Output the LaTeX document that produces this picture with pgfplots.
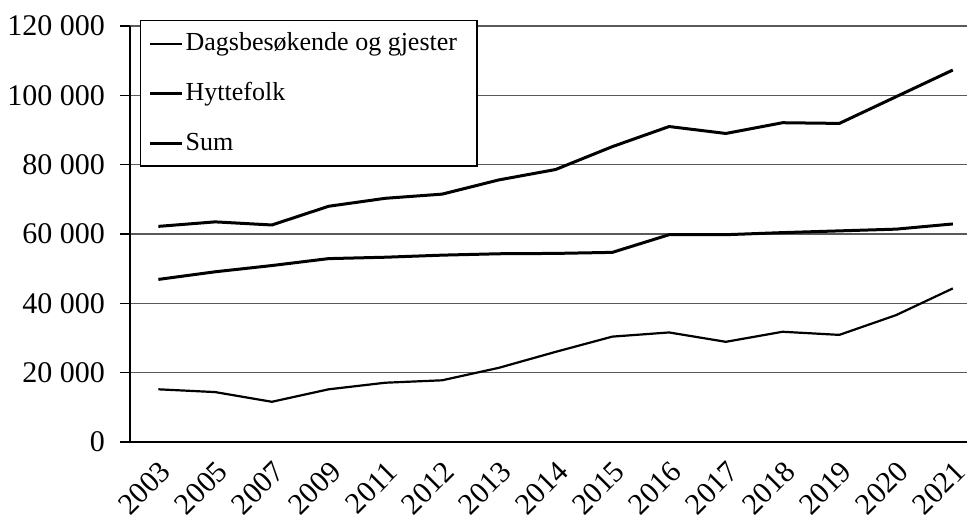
\documentclass[border=0pt]{standalone}
\usepackage{pgfplots}
\pgfplotsset{compat=1.18}
\usepackage{fontspec}
\setmainfont{Liberation Serif}
\begin{document}
\fontsize{13bp}{15bp}\selectfont
\begin{tikzpicture}
\begin{axis}[
  at={(0,0)}, anchor=south west,
  scale only axis,
  width=418.5bp, height=208bp,
  xmin=-0.5, xmax=14.25,
  ymin=0, ymax=120000,
  axis x line=bottom, axis y line=left,
  axis line style={-, black, line width=0.6bp},
  xtick={0,...,14},
  xticklabels={2003,2005,2007,2009,2011,2012,2013,2014,2015,2016,2017,2018,2019,2020,2021},
  x tick label style={rotate=45, anchor=north east, font=\fontsize{15bp}{17bp}\selectfont, xshift=-2bp, yshift=-2bp, inner sep=0.5bp},
  major x tick style={draw=none},
  extra x ticks={-0.5,0.5,...,13.5},
  extra x tick labels={},
  extra x tick style={tick align=outside, major tick length=5bp, tick style={black, line width=0.6bp}, grid=none},
  ytick={0,20000,40000,60000,80000,100000,120000},
  yticklabels={0,20 000,40 000,60 000,80 000,100 000,120 000},
  scaled y ticks=false,
  y tick label style={font=\fontsize{15bp}{17bp}\selectfont, xshift=-3bp},
  tick align=outside,
  major tick length=5bp,
  ytick style={black, line width=0.6bp},
  ymajorgrids,
  grid style={black!65, line width=0.6bp},
  legend style={at={(rel axis cs:0,1)}, anchor=north west, xshift=5bp, yshift=3bp,
    draw=black, fill=white, line width=0.6bp, inner xsep=4bp, inner ysep=4bp,
    font=\fontsize{13bp}{15bp}\selectfont, row sep=10bp,
    nodes={inner xsep=1bp, text depth=2bp}},
  legend cell align=left,
  legend image code/.code={\draw[#1] (0bp,0bp) -- (16bp,0bp);},
]
\addplot[black, line width=1.1bp] coordinates {
(0,15200) (1,14400) (2,11600) (3,15200) (4,17100) (5,17800) (6,21400) (7,26000) (8,30400) (9,31600) (10,28900) (11,31800) (12,30900) (13,36600) (14,44300)};
\addlegendentry{Dagsbesøkende og gjester\hspace*{5bp}}
\addplot[black, line width=1.5bp] coordinates {
(0,46900) (1,49100) (2,50900) (3,52900) (4,53300) (5,53900) (6,54300) (7,54400) (8,54700) (9,59800) (10,59800) (11,60400) (12,60900) (13,61400) (14,62900)};
\addlegendentry{Hyttefolk}
\addplot[black, line width=1.5bp] coordinates {
(0,62200) (1,63500) (2,62600) (3,68000) (4,70300) (5,71500) (6,75600) (7,78600) (8,85200) (9,91000) (10,89000) (11,92100) (12,91900) (13,99600) (14,107300)};
\addlegendentry{Sum}
\end{axis}
\pgfresetboundingbox
\path (-65bp,-38bp) rectangle (418.5bp,221bp);
\end{tikzpicture}
\end{document}
